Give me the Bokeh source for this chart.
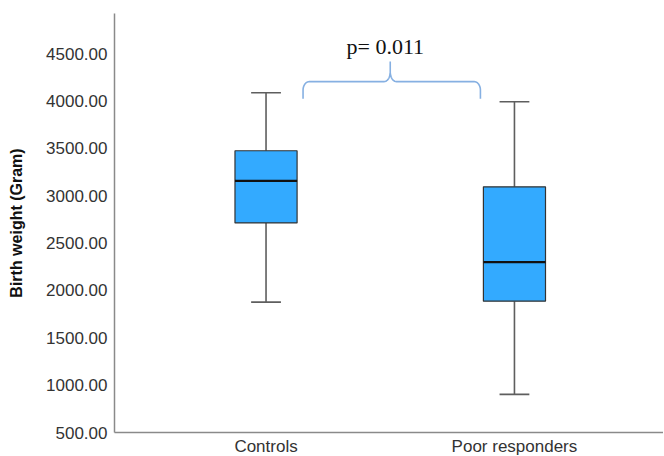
from bokeh.plotting import figure
from bokeh.embed import file_html
from bokeh.resources import INLINE
from bokeh.models import ColumnDataSource, Range1d, FixedTicker, Label
import numpy as np

categories = ["Controls", "Poor responders"]
positions = [1, 2]
whisker_low = [1876, 902]
q1 = [2712, 1886]
median = [3156, 2299]
q3 = [3474, 3093]
whisker_high = [4087, 3992]
y_ticks = [500, 1000, 1500, 2000, 2500, 3000, 3500, 4000, 4500]
p_text = "p= 0.011"

p = figure(width=663, height=458, output_backend="svg", toolbar_location=None,
           x_range=Range1d(0.39, 2.6), y_range=Range1d(500, 4923))
p.min_border_top = 13
p.min_border_right = 0
p.min_border_left = 114
p.min_border_bottom = 0
p.outline_line_color = None
p.grid.visible = False

src = ColumnDataSource(dict(x=positions, lo=whisker_low, q1=q1, med=median, q3=q3, hi=whisker_high))

wc = "#5e5e5e"
p.segment(x0="x", y0="q3", x1="x", y1="hi", source=src, line_color=wc, line_width=1.6)
p.segment(x0="x", y0="lo", x1="x", y1="q1", source=src, line_color=wc, line_width=1.6)
cap = 0.06
p.segment(x0=[x - cap for x in positions], y0=whisker_high, x1=[x + cap for x in positions], y1=whisker_high,
          line_color=wc, line_width=1.6)
p.segment(x0=[x - cap for x in positions], y0=whisker_low, x1=[x + cap for x in positions], y1=whisker_low,
          line_color=wc, line_width=1.6)
p.vbar(x="x", width=0.25, bottom="q1", top="q3", source=src, fill_color="#33aaff",
       line_color="#333333", line_width=1.2)
p.segment(x0=[x - 0.125 for x in positions], y0=median, x1=[x + 0.125 for x in positions], y1=median,
          line_color="#111111", line_width=2.2)

# curly brace
xl, xr, xm = 1.149, 1.863, 1.5
yb, yt, yp = 4024, 4204, 4415
r = 0.025
t = np.linspace(0, np.pi / 2, 12)
bx, by = [xl], [yb]
bx += list(xl + r - r * np.cos(t)); by += list(yt - 90 + 90 * np.sin(t))
bx += [xm - r]; by += [yt]
bx += list(xm - r + r * np.sin(t)); by += list(yt + 100 * (1 - np.cos(t)))
bx += [xm, xm]; by += [yt + 100, yp]
bx += list(xm + r - r * np.sin(t))[::-1]; by += list(yt + 100 * (1 - np.cos(t)))[::-1]
bx += [xr - r]; by += [yt]
bx += list(xr - r + r * np.sin(t)); by += list(yt - 90 + 90 * np.cos(t))
bx += [xr]; by += [yb]
p.line(bx, by, line_color="#86b0e2", line_width=1.6)

p.add_layout(Label(x=1.48, y=4570, text=p_text, text_align="center", text_baseline="alphabetic",
                   text_font="Liberation Serif", text_font_size="22px", text_color="#111111"))

p.xaxis.ticker = FixedTicker(ticks=positions)
p.xaxis.major_label_overrides = {1: categories[0], 2: categories[1]}
p.xaxis.major_tick_line_color = None
p.xaxis.major_tick_out = 0
p.xaxis.major_tick_in = 0
p.xaxis.minor_tick_line_color = None
p.xaxis.axis_line_color = "#8a8a8a"
p.xaxis.axis_line_width = 1.5
p.xaxis.major_label_text_font = "Liberation Sans"
p.xaxis.major_label_text_font_size = "17px"
p.xaxis.major_label_text_color = "#333333"
p.xaxis.major_label_standoff = 4

p.yaxis.ticker = FixedTicker(ticks=y_ticks)
p.yaxis.major_label_overrides = {v: f"{v}.00" for v in y_ticks}
p.yaxis.major_tick_line_color = None
p.yaxis.major_tick_out = 0
p.yaxis.major_tick_in = 0
p.yaxis.minor_tick_line_color = None
p.yaxis.axis_line_color = "#8a8a8a"
p.yaxis.axis_line_width = 1.5
p.yaxis.major_label_text_font = "Liberation Sans"
p.yaxis.major_label_text_font_size = "17px"
p.yaxis.major_label_text_color = "#333333"
p.yaxis.major_label_standoff = 7
p.yaxis.axis_label = "Birth weight (Gram)"
p.yaxis.axis_label_text_font = "Liberation Sans"
p.yaxis.axis_label_text_font_style = "bold"
p.yaxis.axis_label_text_font_size = "16px"
p.yaxis.axis_label_text_color = "#111111"
p.yaxis.axis_label_standoff = 18

open("out.html", "w").write(file_html(p, INLINE))
